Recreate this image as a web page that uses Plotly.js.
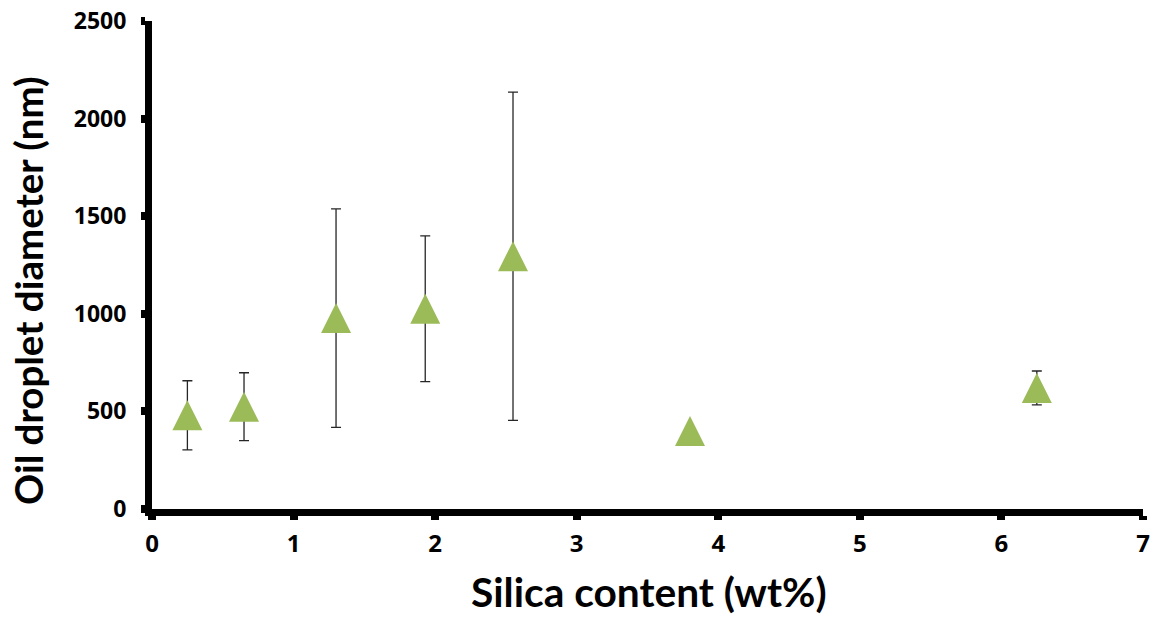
<!DOCTYPE html>
<html>
<head>
<meta charset="utf-8">
<script src="https://cdn.plot.ly/plotly-3.0.1.min.js"></script>
<style>
  html, body { margin: 0; padding: 0; background: #ffffff; }
  #chart { width: 1156px; height: 617px; }
</style>
</head>
<body>
<div id="chart"></div>
<script>
// Data
const silicaContent = [0.25, 0.65, 1.3, 1.93, 2.55, 3.8, 6.25];          // wt%
const dropletDiameter = [480, 524, 978, 1026, 1295, 400, 620];           // nm
const diameterError = [177, 174, 560, 373, 841, 0, 87];                  // nm

const xTickVals = [0, 1, 2, 3, 4, 5, 6, 7];
const xTickText = ['0', '1', '2', '3', '4', '5', '6', '7'];
const yTickVals = [0, 500, 1000, 1500, 2000, 2500];
const yTickText = ['0', '500', '1000', '1500', '2000', '2500'];

const xTitle = 'Silica content (wt%)';
const yTitle = 'Oil droplet diameter (nm)';

const trace = {
  type: 'scatter',
  mode: 'markers',
  x: silicaContent,
  y: dropletDiameter,
  error_y: {
    type: 'data',
    array: diameterError,
    visible: true,
    color: '#262626',
    thickness: 1.3,
    width: 5
  },
  marker: {
    // upright triangle, centred on the data point (arrow-down rotated 180°, pushed back by half its height)
    symbol: 'arrow-down',
    angle: 180,
    size: 30,
    standoff: 15,
    color: '#9BBB59',
    line: { width: 0 }
  },
  hoverinfo: 'x+y'
};

const layout = {
  width: 1156,
  height: 617,
  margin: { l: 152, r: 13, t: 21, b: 108 },
  paper_bgcolor: '#ffffff',
  plot_bgcolor: '#ffffff',
  showlegend: false,
  font: { family: '"Open Sans", sans-serif', color: '#000000' },
  xaxis: {
    range: [0, 7],
    tickvals: xTickVals,
    ticktext: xTickText,
    showgrid: false,
    zeroline: false,
    showline: true,
    linecolor: '#000000',
    linewidth: 7,
    ticks: 'outside',
    ticklen: 4,
    tickwidth: 8,
    tickcolor: '#000000',
    ticklabelstandoff: 3,
    tickfont: { family: '"Open Sans", sans-serif', size: 24, color: '#000000', weight: 'bold' }
  },
  yaxis: {
    range: [0, 2500],
    tickvals: yTickVals,
    ticktext: yTickText,
    showgrid: false,
    zeroline: false,
    showline: true,
    linecolor: '#000000',
    linewidth: 7,
    ticks: 'outside',
    ticklen: 4,
    tickwidth: 8,
    tickcolor: '#000000',
    ticklabelstandoff: 10,
    tickfont: { family: '"Open Sans", sans-serif', size: 23, color: '#000000', weight: 'bold' }
  },
  annotations: [
    {
      text: xTitle,
      xref: 'paper', yref: 'paper',
      x: 0.5015, y: -0.17,
      xanchor: 'center', yanchor: 'middle',
      showarrow: false,
      font: { family: 'Lato, sans-serif', size: 40.7, color: '#000000', weight: 'bold' }
    },
    {
      text: yTitle,
      xref: 'paper', yref: 'paper',
      x: -0.1251, y: 0.447,
      xanchor: 'center', yanchor: 'middle',
      textangle: -90,
      showarrow: false,
      font: { family: 'Lato, sans-serif', size: 38.5, color: '#000000', weight: 'bold' }
    }
  ]
};

Plotly.newPlot('chart', [trace], layout, { displayModeBar: false, responsive: false });
</script>
</body>
</html>
